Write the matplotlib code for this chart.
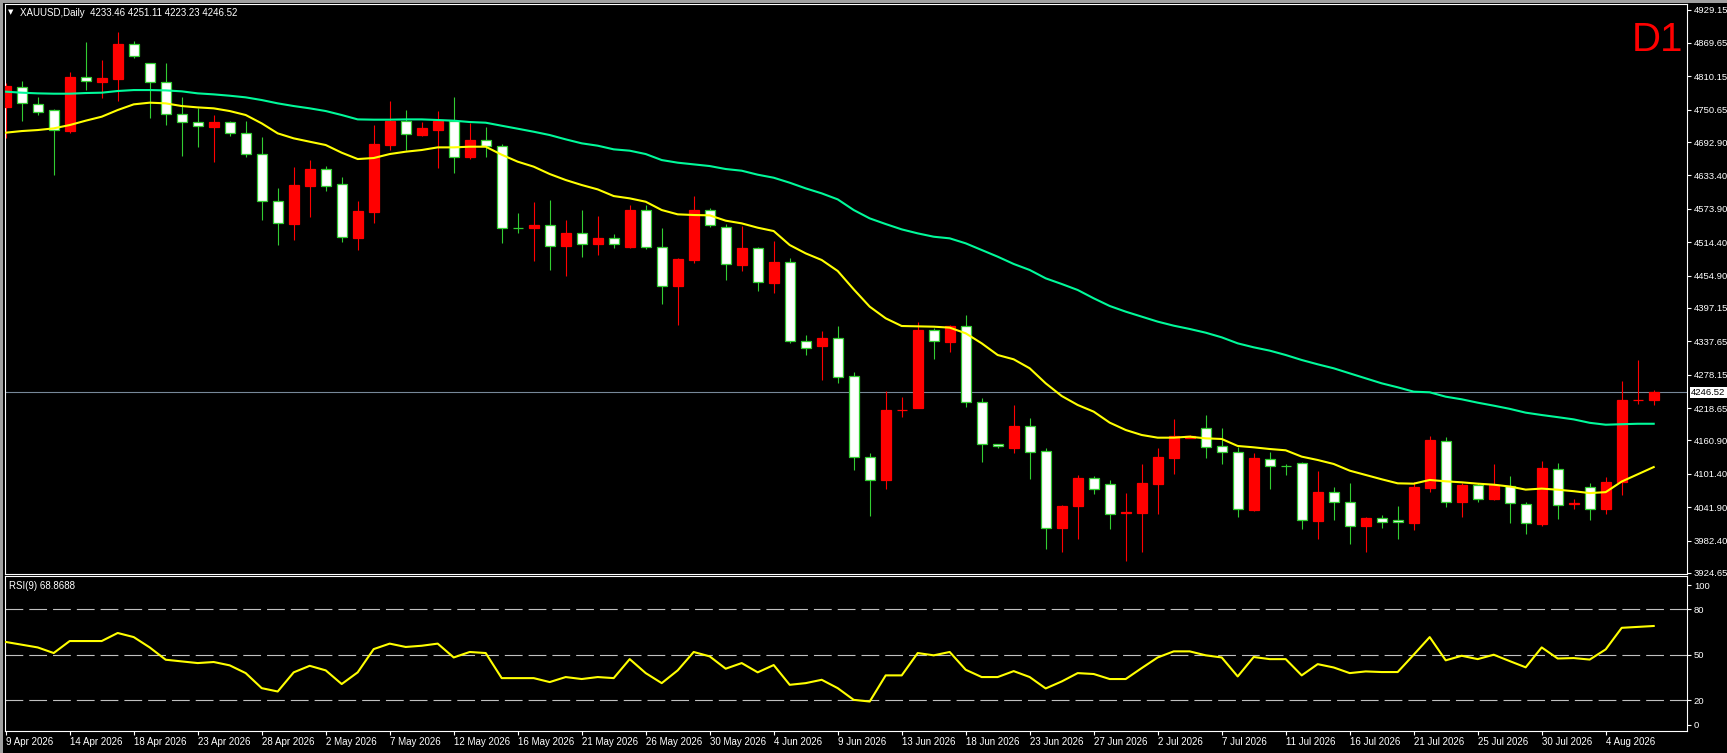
import numpy as np
import matplotlib
matplotlib.use('Agg')
import matplotlib.pyplot as plt
from matplotlib.patches import Rectangle

W, H = 1727, 753

# daily bars (Mon-Sat bars, 9 Apr .. 7 Aug 2026)
bar_open = [4792.8, 4761.9, 4745.8, 4713.7, 4808.8, 4801.1, 4807.0, 4868.2, 4845.7, 4799.3,
            4742.3, 4728.0, 4720.9, 4728.6, 4708.4, 4670.9, 4587.1, 4547.9, 4616.3, 4644.8,
            4613.9, 4522.9, 4569.9, 4689.4, 4730.4, 4706.6, 4717.9, 4731.0, 4665.6, 4696.5,
            4685.8, 4540.2, 4539.5, 4544.9, 4508.1, 4530.7, 4511.7, 4521.8, 4510.5, 4571.7,
            4506.3, 4436.8, 4484.3, 4571.7, 4544.3, 4474.9, 4503.9, 4442.8, 4479.6, 4337.6,
            4325.1, 4342.9, 4274.6, 4130.8, 4091.0, 4215.2, 4215.8, 4357.8, 4337.6, 4364.9,
            4228.8, 4154.0, 4151.0, 4186.6, 4140.9, 4005.4, 4044.0, 4093.9, 4074.9, 4029.2,
            4032.5, 4085.0, 4131.4, 4168.8, 4168.7, 4149.8, 4140.9, 4038.0, 4129.6, 4115.9,
            4115.3, 4018.5, 4069.0, 4050.5, 4008.9, 4022.6, 4014.9, 4014.9, 4077.9, 4161.1,
            4051.7, 4081.4, 4055.9, 4081.4, 4048.8, 4013.1, 4111.2, 4046.4, 4048.5, 4037.8,
            4087.6, 4232.7, 4233.5, 4246.5]
bar_high = [4798.7, 4801.7, 4773.2, 4751.8, 4817.7, 4871.2, 4839.1, 4889.0, 4873.0, 4834.0,
            4833.8, 4773.2, 4753.5, 4741.1, 4731.0, 4730.4, 4701.8, 4610.9, 4649.0, 4660.8,
            4650.1, 4630.5, 4587.7, 4723.2, 4766.0, 4750.0, 4729.2, 4748.2, 4773.2, 4726.2,
            4719.7, 4688.8, 4565.7, 4586.0, 4589.5, 4553.9, 4571.7, 4561.0, 4528.9, 4580.6,
            4580.6, 4539.0, 4487.0, 4596.6, 4575.3, 4546.7, 4543.2, 4506.0, 4516.4, 4486.7,
            4348.3, 4356.0, 4364.9, 4282.3, 4138.5, 4249.0, 4238.9, 4371.5, 4360.8, 4366.7,
            4384.5, 4236.6, 4155.0, 4224.1, 4200.9, 4147.4, 4045.8, 4099.3, 4097.5, 4090.4,
            4066.6, 4118.9, 4147.4, 4199.1, 4170.0, 4206.2, 4183.1, 4149.8, 4137.9, 4140.3,
            4118.9, 4123.1, 4106.4, 4077.9, 4085.0, 4025.0, 4028.0, 4044.0, 4086.8, 4168.8,
            4167.6, 4084.4, 4084.4, 4118.9, 4097.5, 4051.1, 4124.2, 4120.2, 4055.8, 4084.2,
            4096.2, 4266.2, 4303.9, 4251.1]
bar_low = [4699.5, 4731.0, 4741.1, 4634.7, 4709.6, 4785.6, 4772.0, 4766.6, 4843.3, 4736.3,
           4723.2, 4668.6, 4684.6, 4657.9, 4704.2, 4666.8, 4554.5, 4509.9, 4518.8, 4559.8,
           4606.2, 4514.0, 4501.0, 4547.9, 4678.7, 4678.7, 4704.2, 4647.2, 4638.2, 4663.2,
           4666.8, 4512.3, 4530.1, 4480.8, 4464.8, 4454.1, 4488.5, 4491.5, 4504.5, 4504.0,
           4501.6, 4403.6, 4366.7, 4477.8, 4542.0, 4446.9, 4463.0, 4427.3, 4424.4, 4335.2,
           4313.2, 4268.7, 4263.9, 4108.2, 4026.2, 4074.3, 4203.3, 4218.0, 4306.1, 4319.2,
           4221.1, 4123.0, 4146.8, 4139.1, 4092.7, 3967.2, 3962.5, 3985.1, 4066.0, 4002.9,
           3945.8, 3962.5, 4029.6, 4101.7, 4165.0, 4130.2, 4119.5, 4025.0, 4035.0, 4074.9,
           4099.3, 4003.6, 3985.1, 4019.6, 3976.2, 3962.5, 4005.4, 3985.1, 4001.1, 4069.0,
           4042.8, 4025.0, 4051.7, 4055.0, 4013.1, 3994.9, 4008.0, 4020.7, 4039.5, 4018.9,
           4030.1, 4064.4, 4226.7, 4223.2]
bar_close = [4755.9, 4791.6, 4761.3, 4749.4, 4712.5, 4808.2, 4800.5, 4805.2, 4867.1, 4833.2,
             4799.3, 4742.3, 4728.6, 4720.3, 4728.0, 4708.4, 4670.9, 4587.1, 4547.3, 4615.1,
             4644.2, 4617.5, 4522.4, 4568.7, 4687.6, 4730.4, 4705.4, 4714.9, 4731.0, 4665.6,
             4695.9, 4685.8, 4540.5, 4540.2, 4544.3, 4508.1, 4530.1, 4511.7, 4521.2, 4506.3,
             4571.1, 4506.3, 4436.8, 4482.6, 4571.7, 4540.8, 4473.7, 4503.3, 4442.2, 4478.4,
             4337.6, 4329.9, 4342.9, 4275.2, 4130.8, 4091.0, 4214.6, 4219.3, 4357.2, 4337.0,
             4364.3, 4228.8, 4154.0, 4148.0, 4186.0, 4141.5, 4005.4, 4044.6, 4093.3, 4082.6,
             4031.5, 4032.1, 4083.8, 4130.2, 4165.7, 4182.5, 4150.4, 4140.9, 4037.5, 4128.4,
             4115.3, 4120.1, 4017.9, 4068.4, 4050.5, 4008.9, 4022.0, 4018.5, 4013.7, 4076.1,
             4160.5, 4051.7, 4080.8, 4056.5, 4080.2, 4048.1, 4011.9, 4109.1, 4047.5, 4078.2,
             4037.8, 4085.9, 4232.5, 4233.5]

# moving averages as drawn on the chart
ma_cyan = [4782.7, 4780.9, 4779.7, 4779.1, 4779.1, 4780.3, 4780.9, 4783.9, 4785.6, 4785.6,
           4785.0, 4783.3, 4779.7, 4777.9, 4775.5, 4772.6, 4767.8, 4761.9, 4757.1, 4753.0,
           4748.2, 4741.1, 4733.3, 4732.8, 4732.8, 4733.3, 4733.3, 4732.2, 4731.0, 4728.6,
           4727.4, 4722.0, 4716.7, 4711.3, 4705.4, 4697.7, 4690.6, 4686.4, 4679.9, 4677.5,
           4671.5, 4660.8, 4656.1, 4653.1, 4650.1, 4644.8, 4641.8, 4634.7, 4629.3, 4620.4,
           4610.3, 4601.4, 4590.7, 4571.7, 4556.8, 4546.7, 4537.2, 4530.1, 4524.1, 4521.2,
           4512.3, 4500.4, 4488.5, 4475.5, 4464.8, 4449.9, 4439.8, 4429.1, 4414.3, 4400.6,
           4390.5, 4381.6, 4372.7, 4365.5, 4359.6, 4353.0, 4344.7, 4334.0, 4326.9, 4321.0,
           4313.2, 4304.3, 4296.6, 4289.5, 4280.5, 4271.6, 4262.7, 4255.6, 4247.8, 4246.7,
           4238.9, 4234.2, 4228.2, 4222.9, 4217.2, 4210.4, 4206.2, 4202.4, 4198.4, 4192.3,
           4188.9, 4189.8, 4190.6, 4190.6]
ma_yellow = [4709.6, 4712.5, 4714.3, 4717.3, 4723.2, 4731.0, 4738.1, 4750.0, 4760.1, 4763.1,
             4761.9, 4757.1, 4754.7, 4753.0, 4748.2, 4741.1, 4726.2, 4708.4, 4699.5, 4693.5,
             4687.6, 4673.9, 4662.6, 4664.4, 4671.5, 4675.7, 4678.7, 4683.4, 4683.4, 4684.6,
             4684.6, 4670.3, 4657.9, 4649.0, 4635.9, 4625.2, 4616.3, 4608.5, 4596.6, 4592.5,
             4586.5, 4571.7, 4564.0, 4562.8, 4562.2, 4552.7, 4547.9, 4540.2, 4534.2, 4509.3,
             4494.4, 4482.6, 4463.0, 4430.3, 4399.4, 4378.6, 4364.9, 4364.3, 4363.7, 4362.0,
             4351.9, 4334.0, 4313.2, 4305.5, 4289.5, 4262.7, 4240.1, 4224.1, 4212.2, 4192.6,
             4179.5, 4170.6, 4165.8, 4165.8, 4167.6, 4164.6, 4163.5, 4151.0, 4148.6, 4145.6,
             4143.3, 4132.0, 4126.0, 4118.9, 4107.0, 4099.3, 4091.6, 4084.4, 4083.8, 4090.4,
             4088.0, 4086.2, 4083.8, 4082.0, 4078.7, 4073.2, 4075.0, 4073.0, 4070.4, 4067.0,
             4068.7, 4087.6, 4100.5, 4113.4]

rsi = [58.4, 56.6, 54.8, 51.1, 59.0, 59.0, 59.0, 64.3, 61.6, 54.8,
       46.7, 45.6, 44.5, 45.2, 43.0, 37.9, 28.0, 25.8, 38.4, 42.7,
       39.7, 30.7, 38.4, 53.7, 57.3, 55.1, 55.9, 57.3, 48.2, 51.8,
       51.1, 34.6, 34.6, 34.6, 32.0, 35.3, 34.0, 35.3, 34.6, 47.1,
       37.9, 31.3, 39.7, 51.8, 48.9, 40.8, 44.5, 38.4, 43.2, 30.2,
       31.3, 33.5, 28.0, 20.3, 19.2, 36.4, 36.4, 51.1, 49.6, 51.8,
       40.1, 35.3, 35.3, 39.2, 35.3, 27.8, 32.4, 37.9, 37.3, 34.0,
       34.0, 41.2, 48.2, 52.2, 52.2, 49.6, 48.2, 35.7, 48.5, 47.1,
       47.1, 36.4, 43.8, 41.6, 37.9, 39.0, 38.6, 38.6, 50.0, 61.6,
       46.3, 49.3, 47.1, 50.0, 45.8, 41.7, 54.8, 47.5, 47.8, 46.8,
       53.5, 67.7, 68.3, 68.9]

price_ticks = [4929.15, 4869.65, 4810.15, 4750.65, 4692.90, 4633.40, 4573.90, 4514.40, 4454.90,
               4397.15, 4337.65, 4278.15, 4218.65, 4160.90, 4101.40, 4041.90, 3982.40, 3924.65]
rsi_levels = [80, 50, 20]
date_labels = ['9 Apr 2026', '14 Apr 2026', '18 Apr 2026', '23 Apr 2026', '28 Apr 2026',
               '2 May 2026', '7 May 2026', '12 May 2026', '16 May 2026', '21 May 2026',
               '26 May 2026', '30 May 2026', '4 Jun 2026', '9 Jun 2026', '13 Jun 2026',
               '18 Jun 2026', '23 Jun 2026', '27 Jun 2026', '2 Jul 2026', '7 Jul 2026',
               '11 Jul 2026', '16 Jul 2026', '21 Jul 2026', '25 Jul 2026', '30 Jul 2026',
               '4 Aug 2026']
bid = 4246.52
title = 'XAUUSD,Daily  4233.46 4251.11 4223.23 4246.52'
rsi_title = 'RSI(9) 68.8688'

GREEN = '#32CD32'
RED = '#FF0000'
FONT = ['Liberation Sans', 'DejaVu Sans']
plt.rcParams['font.family'] = FONT


def fx(px):
    return px / W


def fy(py):
    return 1 - py / H


fig = plt.figure(figsize=(W / 100, H / 100), dpi=100, facecolor='black')

# window frame (top and left edges)
fig.add_artist(Rectangle((0, fy(2.7)), 1, 2.7 / H, transform=fig.transFigure, color='#a0a0a0', lw=0))
fig.add_artist(Rectangle((0, 0), fx(2.7), 1, transform=fig.transFigure, color='#a0a0a0', lw=0))

left, right = 4.5, 1687
ax = fig.add_axes([fx(left), fy(574.3), fx(right - left), (574.3 - 4.3) / H])
ax_rsi = fig.add_axes([fx(left), fy(731.2), fx(right - left), (731.2 - 576.3) / H], sharex=ax)

for a in (ax, ax_rsi):
    a.set_facecolor('black')
    for s in a.spines.values():
        s.set_color('white')
        s.set_linewidth(0.8)

o = np.array(bar_open)
h = np.array(bar_high)
l = np.array(bar_low)
c = np.array(bar_close)
idx = np.arange(len(o))
up = c >= o

ax.axhline(bid, color='#778899', lw=0.8, zorder=1)
ax.vlines(idx, l, h, colors=np.where(up, GREEN, RED), lw=0.8, zorder=2)
ax.bar(idx, np.abs(c - o), bottom=np.minimum(o, c), width=0.62,
       color=np.where(up, 'white', RED), edgecolor=np.where(up, GREEN, RED),
       linewidth=0.9, zorder=3)
ax.plot(idx, ma_cyan, color='#00FA9A', lw=1.5, zorder=4)
ax.plot(idx, ma_yellow, color='#FFFF00', lw=1.5, zorder=4)

ax.set_xlim((left - 5.7) / 16, (right - 5.7) / 16)
ax.set_ylim(3922.2, 4938.5)
ax.yaxis.tick_right()
ax.set_yticks(price_ticks)
ax.set_yticklabels(['%.2f' % v for v in price_ticks])
ax.tick_params(axis='y', colors='white', length=3, width=0.8, labelsize=6.8, pad=2)
ax.tick_params(axis='x', bottom=False, labelbottom=False)

ax.annotate('%.2f' % bid, xy=(1, bid), xycoords=('axes fraction', 'data'),
            xytext=(4, 0), textcoords='offset pixels', ha='left', va='center',
            color='black', fontsize=6.8,
            bbox=dict(boxstyle='square,pad=0.12', fc='white', ec='none'),
            annotation_clip=False)

fig.text(fx(1683), fy(50.6), 'D1', color=RED, fontsize=29, ha='right', va='baseline')
fig.text(fx(8), fy(12.5), '\u25bc', color='white', fontsize=5, ha='left', va='center',
         family=['DejaVu Sans'])
fig.text(fx(20), fy(12.5), title, color='white', fontsize=7, ha='left', va='center')

# RSI panel
for lev in rsi_levels:
    ax_rsi.axhline(lev, color='#c0c0c0', lw=0.8, ls=(0, (16, 5.4)), zorder=1)
ax_rsi.plot(idx, rsi, color='#FFFF00', lw=1.5, zorder=3)
ax_rsi.set_ylim(-0.33, 101.6)
ax_rsi.yaxis.tick_right()
ax_rsi.set_yticks([95.8, 80, 50, 20, 3.9])
ax_rsi.set_yticklabels(['100', '80', '50', '20', '0'])
ax_rsi.tick_params(axis='y', colors='white', length=3, width=0.8, labelsize=6.8, pad=2)

ax_rsi.set_xticks(np.arange(0, 4 * len(date_labels), 4))
ax_rsi.set_xticklabels(date_labels)
ax_rsi.tick_params(axis='x', colors='white', length=3, width=0.8, labelsize=7, pad=1.5)
for t in ax_rsi.get_xticklabels():
    t.set_ha('left')

fig.text(fx(9), fy(586), rsi_title, color='white', fontsize=7, ha='left', va='center')

fig.savefig('out.png', dpi=100, facecolor='black')
